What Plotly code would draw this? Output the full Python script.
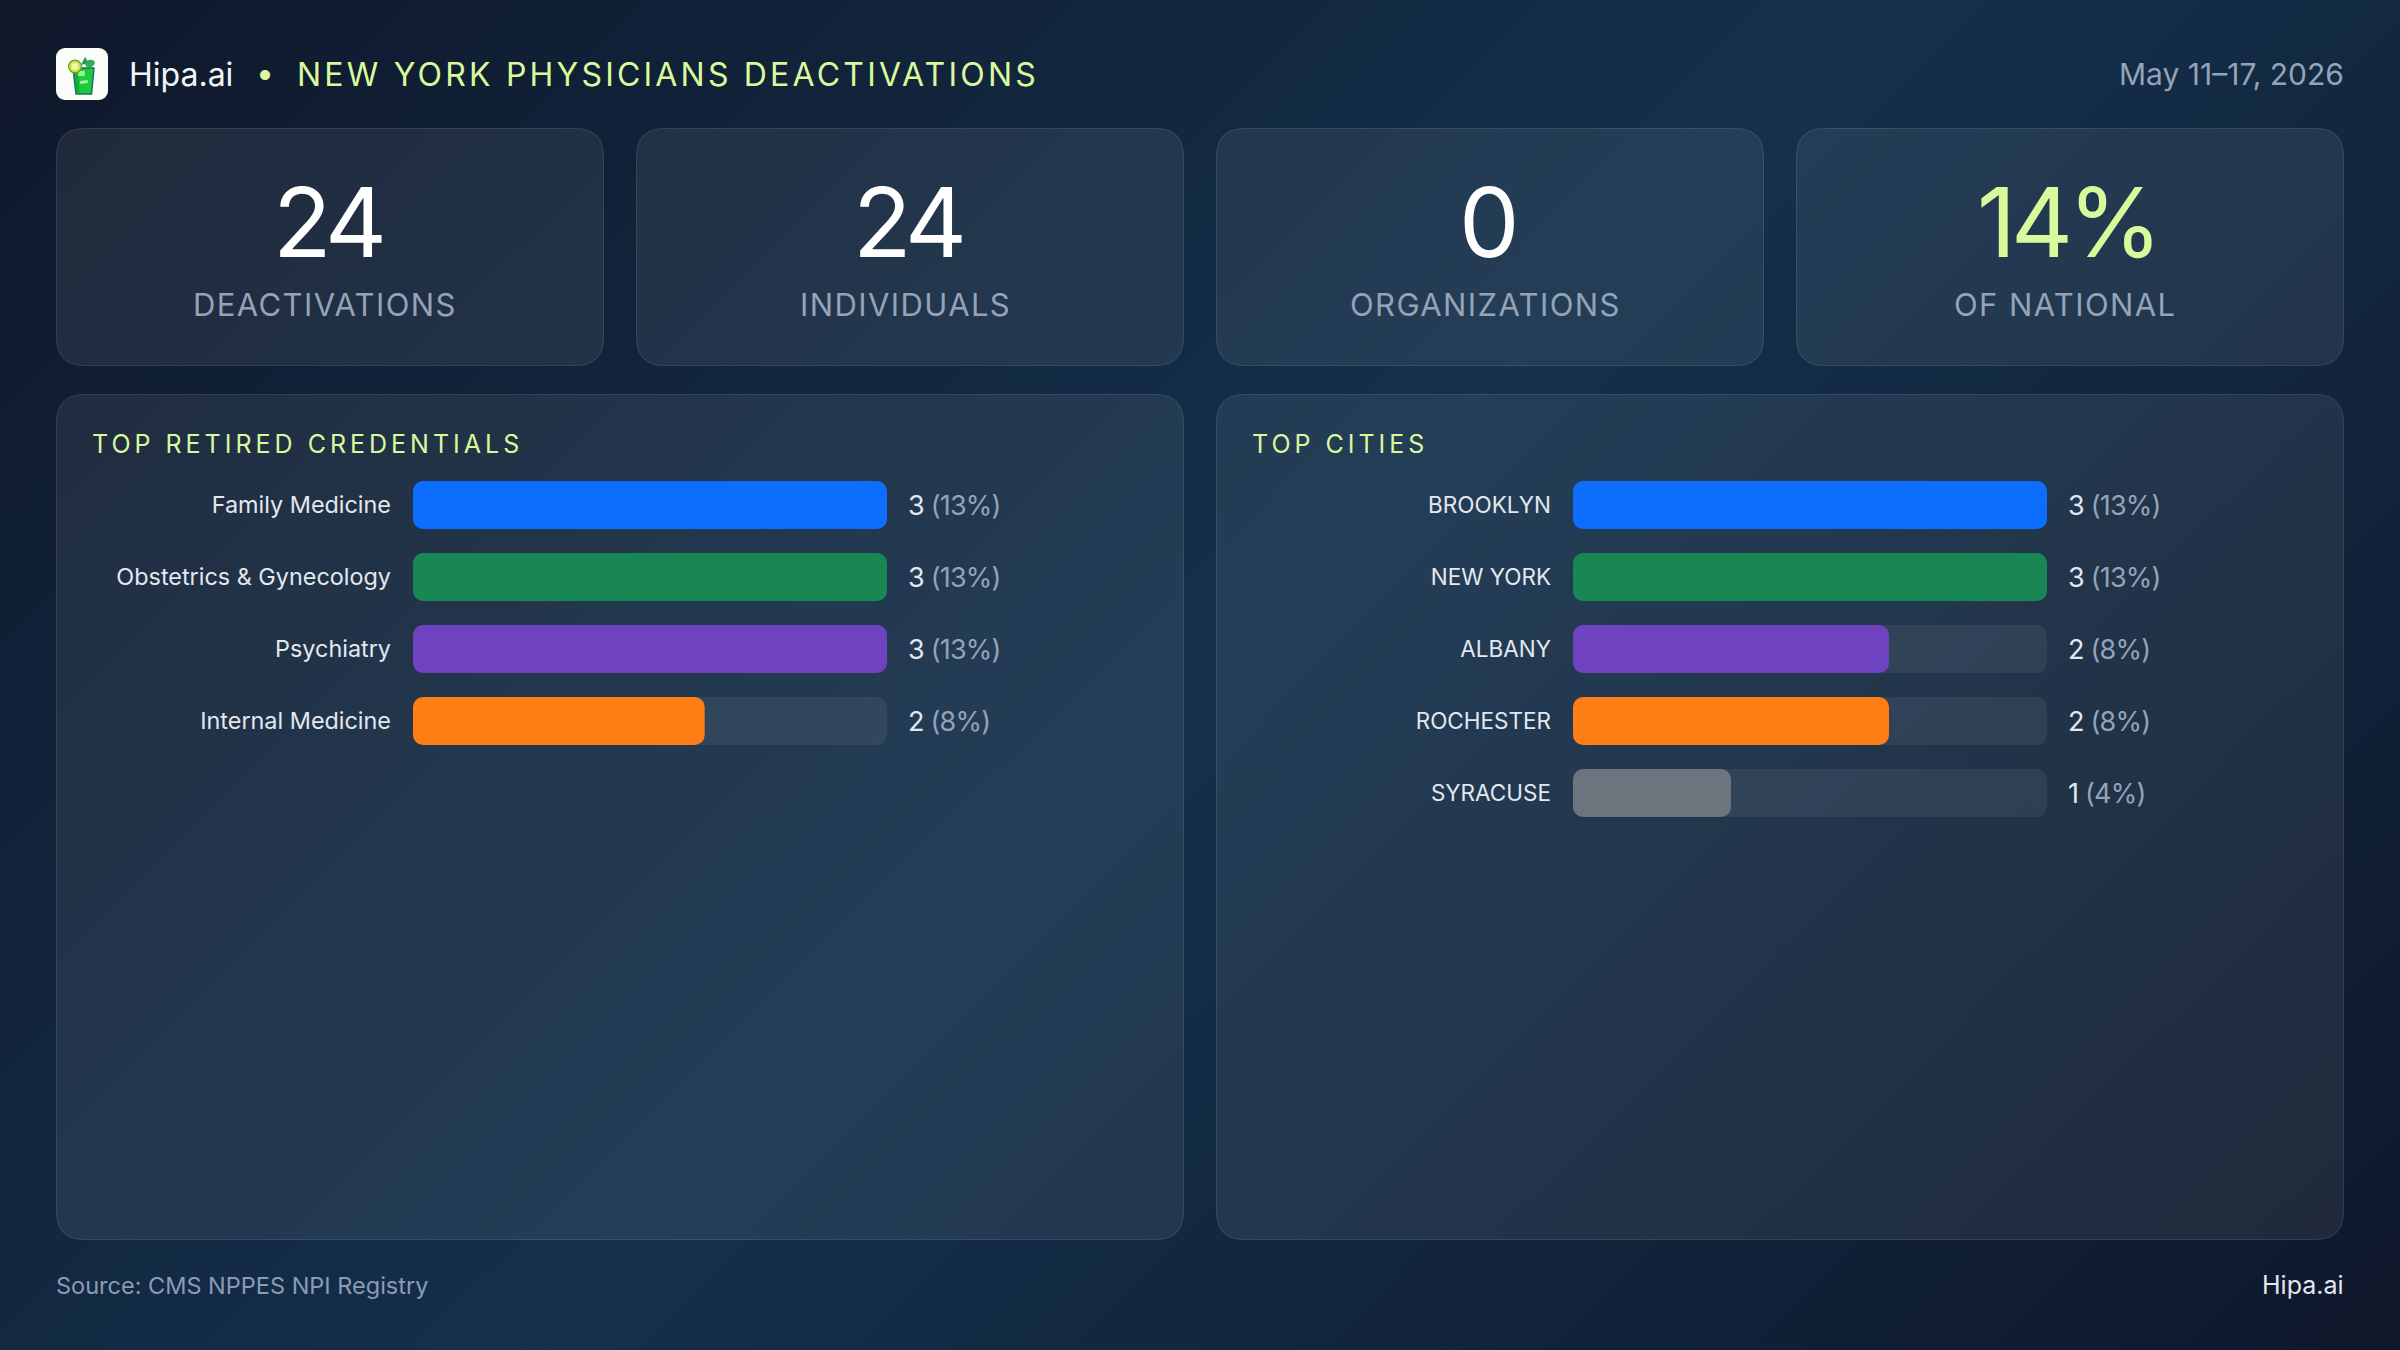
import base64
import plotly.graph_objects as go

# Weekly summary figures
period = "May 11–17, 2026"
brand = "Hipa.ai"
headline = "NEW YORK PHYSICIANS DEACTIVATIONS"
source_note = "Source: CMS NPPES NPI Registry"

kpi_values = ["24", "24", "0", "14%"]
kpi_labels = ["DEACTIVATIONS", "INDIVIDUALS", "ORGANIZATIONS", "OF NATIONAL"]

credential_names = ["Family Medicine", "Obstetrics & Gynecology", "Psychiatry", "Internal Medicine"]
credential_counts = [3, 3, 3, 2]
credential_shares = [13, 13, 13, 8]

city_names = ["BROOKLYN", "NEW YORK", "ALBANY", "ROCHESTER", "SYRACUSE"]
city_counts = [3, 3, 2, 2, 1]
city_shares = [13, 13, 8, 8, 4]

bar_colors = ["#0d6efd", "#198754", "#6f42c1", "#fd7e14", "#6c757d"]

W, H = 2400, 1350
FONT = "Inter"
LIME = "#d9f99d"
MUTED = "#94a3b8"
SOFT = "#e2e8f0"


def data_uri(svg):
    return "data:image/svg+xml;base64," + base64.b64encode(svg.encode()).decode()


def rounded(x0, y0, x1, y1, r):
    return (
        f"M{x0+r},{y0} L{x1-r},{y0} Q{x1},{y0} {x1},{y0+r} L{x1},{y1-r} Q{x1},{y1} {x1-r},{y1} "
        f"L{x0+r},{y1} Q{x0},{y1} {x0},{y1-r} L{x0},{y0+r} Q{x0},{y0} {x0+r},{y0} Z"
    )


def spaced(text, px):
    return f'<span style="letter-spacing:{px}px">{text}</span>'


# 135-degree page wash, dark at the corners and lighter through the middle
span = (W + H) / 4
backdrop = f"""<svg xmlns="http://www.w3.org/2000/svg" width="{W}" height="{H}">
<defs><linearGradient id="g" gradientUnits="userSpaceOnUse"
 x1="{W/2-span}" y1="{H/2-span}" x2="{W/2+span}" y2="{H/2+span}">
<stop offset="0" stop-color="#0f172a"/><stop offset="0.5" stop-color="#14304b"/>
<stop offset="1" stop-color="#0f172a"/></linearGradient></defs>
<rect width="{W}" height="{H}" fill="url(#g)"/></svg>"""

# Brand tile: a mojito glass with lime and mint
tile = """<svg xmlns="http://www.w3.org/2000/svg" viewBox="0 0 52 52" width="208" height="208">
<rect width="52" height="52" rx="9" fill="#fbfdfb"/>
<path d="M25 17 L29 9 L33 15 Z" fill="#1f9d4a"/>
<ellipse cx="34" cy="15.5" rx="5" ry="3.6" fill="#2fae55" transform="rotate(-20 34 15.5)"/>
<path d="M17 20 L38 20 L35.5 46 L20 46 Z" fill="#1ec93c" stroke="#176e68" stroke-width="1.5"/>
<path d="M21 23 L29 23 L28.5 28 L21.4 28 Z" fill="#9bf29f"/>
<path d="M24 33 L32 32 L31.5 35 L24.3 36 Z" fill="#a9f5ac"/>
<path d="M18.3 20 L22 20 L23.5 46 L20 46 Z" fill="#0ea22f" opacity="0.7"/>
<circle cx="19" cy="18.5" r="6.4" fill="#cfe34f" stroke="#6e9a23" stroke-width="1.2"/>
<circle cx="19" cy="18.5" r="3.4" fill="#eef6a8"/>
</svg>"""

fig = go.Figure()

# Full-page axis pair in pixel units carries the cards and free text
fig.update_layout(
    width=W, height=H, margin=dict(l=0, r=0, t=0, b=0), showlegend=False,
    paper_bgcolor="#0f172a", plot_bgcolor="rgba(0,0,0,0)",
    font=dict(family=FONT, color=SOFT), barmode="overlay", hovermode=False,
    xaxis=dict(domain=[0, 1], range=[0, W], visible=False, fixedrange=True),
    yaxis=dict(domain=[0, 1], range=[H, 0], visible=False, fixedrange=True),
    images=[
        dict(source=data_uri(backdrop), xref="paper", yref="paper", x=0, y=1, sizex=1, sizey=1,
             xanchor="left", yanchor="top", sizing="stretch", layer="below"),
        dict(source=data_uri(tile), xref="x", yref="y", x=56, y=48, sizex=52, sizey=52,
             xanchor="left", yanchor="top", sizing="stretch", layer="above"),
    ],
)
fig.add_trace(go.Scatter(x=[0, W], y=[0, H], mode="markers", marker=dict(opacity=0), xaxis="x", yaxis="y",
                         hoverinfo="skip"))

CARD_FILL = "rgba(255,255,255,0.072)"
CARD_EDGE = "rgba(255,255,255,0.13)"
shapes = []
card_lefts = [56, 636, 1216, 1796]
for left in card_lefts:
    shapes.append(dict(type="path", path=rounded(left + .5, 128.5, left + 547.5, 365.5, 28), xref="x", yref="y",
                       fillcolor=CARD_FILL, line=dict(color=CARD_EDGE, width=1), layer="below"))
panel_lefts = [56, 1216]
for left in panel_lefts:
    shapes.append(dict(type="path", path=rounded(left + .5, 394.5, left + 1127.5, 1239.5, 28), xref="x", yref="y",
                       fillcolor=CARD_FILL, line=dict(color=CARD_EDGE, width=1), layer="below"))
fig.update_layout(shapes=shapes)


def note(x, y, text, size, color, anchor="left", weight=400):
    fig.add_annotation(x=x, y=y, xref="x", yref="y", text=text, showarrow=False, xanchor=anchor, yanchor="middle",
                       font=dict(family=FONT, size=size, color=color, weight=weight), borderpad=0, borderwidth=0)


# Header row
note(129, 74, brand, 32, "#f1f5f9")
note(256, 72, "•", 32, LIME)
note(297, 74, spaced(headline, 3.2), 32, LIME)
note(2344, 74, period, 30, MUTED, "right")

# KPI cards
for left, value, label in zip(card_lefts, kpi_values, kpi_labels):
    note(left + 271, 222, spaced(value, -5), 96, LIME if value.endswith("%") else "#ffffff", "center")
    note(left + 269, 304, spaced(label, 1.4), 31, MUTED, "center")


def add_bars(names, values, color, xa, ya, bar_width):
    # An explicit base makes Plotly round both ends of each bar
    fig.add_trace(go.Bar(y=names, x=values, base=[0] * len(values), orientation="h", xaxis=xa, yaxis=ya,
                         width=bar_width, marker=dict(color=color, cornerradius=10, line=dict(width=0)),
                         hoverinfo="skip"))


def add_panel(index, left, title, names, bar_values, scale_max, counts, shares, label_size):
    """One panel: heading, grey tracks, coloured fills and value labels, all on its own axis pair."""
    xa, ya = f"x{index}", f"y{index}"
    track_x0 = left + 357
    row = 72
    top = 469
    fig.update_layout({
        f"xaxis{index}": dict(domain=[track_x0 / W, (track_x0 + 474) / W], range=[0, scale_max], visible=False,
                              fixedrange=True, anchor=ya),
        f"yaxis{index}": dict(domain=[1 - (top + row * len(names)) / H, 1 - top / H], autorange="reversed",
                              type="category", categoryorder="array", categoryarray=names, anchor=xa,
                              showgrid=False, zeroline=False, showline=False, ticks="",
                              tickfont=dict(family=FONT, size=label_size, color=SOFT), ticklabelstandoff=21,
                              fixedrange=True),
    })
    add_bars(names, [scale_max] * len(names), "rgba(255,255,255,0.065)", xa, ya, 48 / row)
    add_bars(names, bar_values, bar_colors[:len(names)], xa, ya, 48 / row)
    for name, count, share in zip(names, counts, shares):
        fig.add_annotation(x=scale_max, y=name, xref=xa, yref=ya, xanchor="left", yanchor="middle", xshift=19,
                           showarrow=False, font=dict(family=FONT, size=27, color=SOFT),
                           text=spaced(f'{count} <span style="color:{MUTED}">({share}%)</span>', -0.8))
    note(left + 36, 444, spaced(title, 4.0), 25, LIME)


add_panel(2, 56, "TOP RETIRED CREDENTIALS", credential_names, credential_shares, 13, credential_counts,
          credential_shares, 23.4)
add_panel(3, 1216, "TOP CITIES", city_names, city_counts, 3, city_counts, city_shares, 22.5)

# Footer
note(56, 1285, source_note, 23.5, "#8b9bb4")
note(2344, 1285, brand, 25, SOFT, "right")

fig.write_html("out.html")
